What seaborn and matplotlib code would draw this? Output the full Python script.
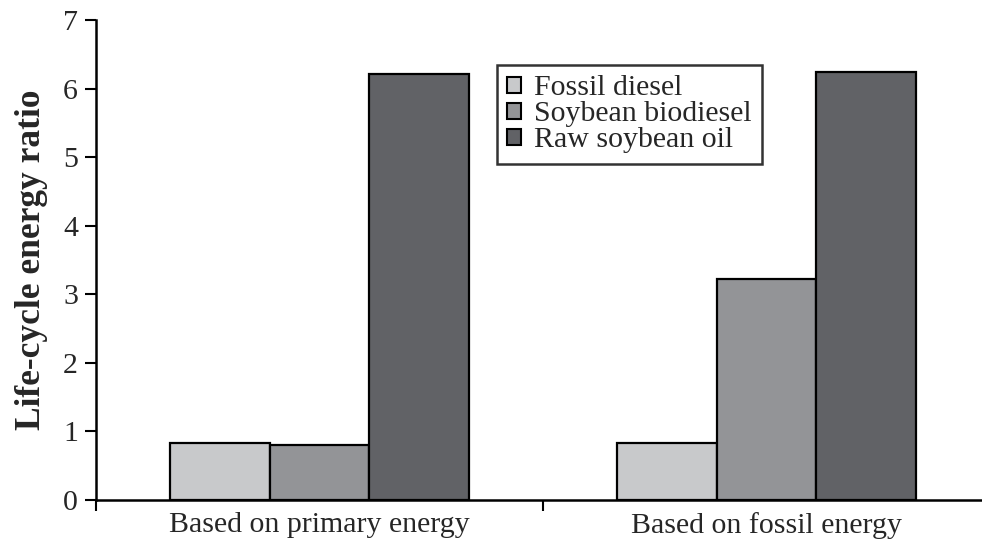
import matplotlib
matplotlib.use("Agg")
import matplotlib.pyplot as plt
import seaborn as sns
import pandas as pd

categories = ["Based on primary energy", "Based on fossil energy"]
series = ["Fossil diesel", "Soybean biodiesel", "Raw soybean oil"]
fossil_diesel = [0.83, 0.83]
soybean_biodiesel = [0.80, 3.22]
raw_soybean_oil = [6.21, 6.24]
colors = ["#c8c9cb", "#939497", "#616266"]
yticks = [0, 1, 2, 3, 4, 5, 6, 7]

rows = []
for name, vals in zip(series, [fossil_diesel, soybean_biodiesel, raw_soybean_oil]):
    for c, v in zip(categories, vals):
        rows.append({"cat": c, "series": name, "value": v})
df = pd.DataFrame(rows)

sns.set_style("ticks")
plt.rcParams["font.family"] = ["Liberation Serif", "DejaVu Serif"]

fig = plt.figure(figsize=(9.82, 5.46), dpi=100)
W, H = 982, 546
ax = fig.add_axes([96 / W, (H - 500) / H, 894 / W, 480 / H])

sns.barplot(data=df, x="cat", y="value", hue="series", order=categories,
            hue_order=series, palette=colors, width=0.67, gap=0,
            edgecolor="black", linewidth=1.6, saturation=1, ax=ax)

ax.set_xlim(-0.5, 1.5)
ax.set_ylim(0, 7)
ax.set_yticks(yticks)
ax.set_yticklabels([str(t) for t in yticks], fontsize=21.5)
ax.set_xticks([0, 1])
ax.set_xticklabels(categories, fontsize=21.5)
ax.set_xticks([-0.5, 0.5, 1.5], minor=True)
ax.tick_params(axis="x", which="major", bottom=False, length=0, pad=9)
ax.tick_params(axis="x", which="minor", bottom=True, length=8, width=1.5, direction="out", color="black")
ax.tick_params(axis="y", left=True, length=8, width=1.5, direction="out", color="black", pad=5)
ax.set_xlabel("")
ax.set_ylabel("Life-cycle energy ratio", fontsize=25.5, fontweight="bold", labelpad=11)
for s in ["top", "right"]:
    ax.spines[s].set_visible(False)
for s in ["left", "bottom"]:
    ax.spines[s].set_color("black")
    ax.spines[s].set_linewidth(1.8)

leg = ax.legend(loc="upper left", bbox_to_anchor=((497 - 96) / 894, (500 - 65) / 480),
                fontsize=21.5, frameon=True, fancybox=False, handlelength=0.45,
                handleheight=0.45, handletextpad=0.45, borderpad=0.35, labelspacing=0.0,
                borderaxespad=0)
leg.get_frame().set_edgecolor("black")
leg.get_frame().set_linewidth(1.8)
for h in leg.legend_handles:
    h.set_edgecolor("black")
    h.set_linewidth(1.5)

fig.savefig("out.png", dpi=100)
